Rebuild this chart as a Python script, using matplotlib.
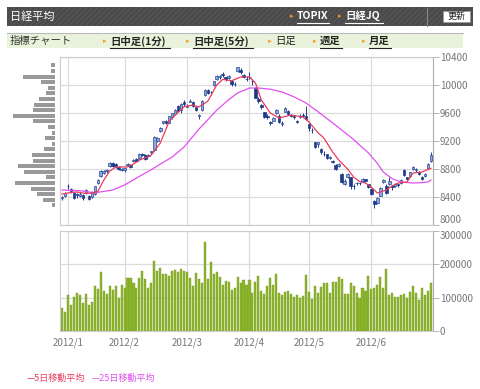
import numpy as np
import matplotlib
matplotlib.use("Agg")
import matplotlib.pyplot as plt
from matplotlib.patches import Rectangle
from matplotlib.lines import Line2D

plt.rcParams['font.family'] = ['Noto Sans CJK JP', 'DejaVu Sans']

# daily candles, 2011/12/29 - 2012/6/29
opens = [8380, 8420, 8550, 8515, 8460, 8440, 8410, 8430, 8460, 8420,
         8400, 8440, 8600, 8700, 8740, 8770, 8840, 8880, 8870, 8830,
         8790, 8780, 8850, 8860, 8910, 8940, 8950, 9020, 9000, 8980,
         9040, 9070, 9200, 9340, 9450, 9480, 9460, 9540, 9590, 9700,
         9640, 9760, 9690, 9760, 9760, 9680, 9560, 9640, 9850, 9930,
         9900, 10000, 10080, 10110, 10150, 10110, 10100, 10060, 10010, 10200,
         10220, 10140, 10090, 10110, 10060, 9960, 9800, 9720, 9610, 9560,
         9470, 9490, 9600, 9560, 9440, 9620, 9630, 9570, 9560, 9490,
         9540, 9570, 9560, 9440, 9350, 9180, 9150, 9090, 9020, 9010,
         8960, 8920, 8860, 8840, 8730, 8580, 8680, 8680, 8550, 8600,
         8600, 8630, 8650, 8580, 8520, 8340, 8320, 8420, 8620, 8560,
         8590, 8560, 8560, 8580, 8600, 8780, 8680, 8700, 8800, 8780,
         8760, 8680, 8700, 8810, 8910]
highs = [8420, 8470, 8580, 8535, 8470, 8460, 8470, 8440, 8520, 8430,
         8480, 8560, 8650, 8780, 8790, 8800, 8900, 8900, 8880, 8840,
         8820, 8820, 8890, 8870, 8940, 8950, 9030, 9030, 9010, 9010,
         9060, 9270, 9250, 9400, 9490, 9500, 9560, 9600, 9660, 9720,
         9740, 9790, 9730, 9800, 9770, 9690, 9590, 9780, 9940, 9940,
         9920, 10060, 10140, 10140, 10190, 10120, 10140, 10070, 10040, 10260,
         10240, 10160, 10130, 10190, 10080, 9970, 9830, 9730, 9620, 9580,
         9490, 9540, 9650, 9580, 9480, 9680, 9640, 9590, 9570, 9500,
         9580, 9600, 9700, 9450, 9380, 9190, 9190, 9100, 9050, 9020,
         8990, 8930, 8870, 8890, 8740, 8650, 8740, 8690, 8590, 8620,
         8610, 8670, 8660, 8590, 8530, 8350, 8400, 8540, 8660, 8580,
         8680, 8570, 8600, 8590, 8660, 8800, 8690, 8760, 8840, 8810,
         8770, 8700, 8740, 8880, 9040]
lows = [8350, 8400, 8520, 8460, 8370, 8390, 8400, 8360, 8440, 8360,
        8390, 8430, 8590, 8690, 8730, 8740, 8830, 8830, 8820, 8780,
        8770, 8760, 8840, 8820, 8900, 8900, 8940, 8980, 8930, 8970,
        9010, 9060, 9180, 9330, 9440, 9440, 9450, 9520, 9580, 9620,
        9600, 9700, 9680, 9750, 9690, 9630, 9520, 9630, 9840, 9870,
        9860, 9990, 10070, 10090, 10120, 10060, 10080, 9990, 9980, 10180,
        10160, 10100, 10060, 10080, 10000, 9810, 9740, 9660, 9530, 9520,
        9430, 9480, 9590, 9460, 9420, 9610, 9570, 9540, 9520, 9450,
        9530, 9540, 9500, 9340, 9320, 9100, 9120, 9020, 8990, 8940,
        8940, 8880, 8790, 8830, 8600, 8570, 8670, 8520, 8520, 8570,
        8570, 8620, 8620, 8530, 8430, 8240, 8300, 8410, 8600, 8440,
        8570, 8500, 8540, 8540, 8590, 8700, 8640, 8690, 8790, 8760,
        8720, 8640, 8690, 8800, 8900]
closes = [8399, 8455, 8560, 8488, 8390, 8422, 8448, 8385, 8500, 8378,
          8466, 8550, 8639, 8766, 8765, 8785, 8883, 8849, 8841, 8793,
          8802, 8809, 8876, 8831, 8929, 8917, 9015, 9002, 8947, 8999,
          9052, 9260, 9238, 9384, 9485, 9463, 9554, 9595, 9647, 9633,
          9722, 9723, 9707, 9777, 9698, 9637, 9576, 9768, 9929, 9889,
          9899, 10050, 10123, 10129, 10141, 10086, 10127, 10011, 10018, 10255,
          10182, 10114, 10083, 10109, 10050, 9819, 9767, 9688, 9546, 9538,
          9458, 9524, 9638, 9470, 9464, 9667, 9588, 9561, 9542, 9467,
          9561, 9561, 9520, 9380, 9350, 9119, 9181, 9045, 9009, 8953,
          8973, 8900, 8801, 8876, 8611, 8633, 8729, 8556, 8563, 8593,
          8593, 8657, 8633, 8542, 8440, 8295, 8383, 8533, 8639, 8459,
          8624, 8536, 8587, 8568, 8647, 8721, 8655, 8752, 8824, 8798,
          8734, 8663, 8730, 8874, 9006]
volumes = [68000, 57000, 107000, 78000, 101000, 113000, 107000, 84000, 111000, 77000,
           86000, 136000, 126000, 178000, 120000, 111000, 134000, 124000, 134000, 100000,
           138000, 128000, 159000, 159000, 145000, 130000, 159000, 180000, 156000, 128000,
           143000, 210000, 180000, 190000, 170000, 171000, 166000, 180000, 182000, 178000,
           186000, 180000, 176000, 159000, 134000, 174000, 157000, 145000, 268000, 155000,
           207000, 170000, 178000, 163000, 137000, 151000, 148000, 122000, 128000, 161000,
           143000, 152000, 138000, 153000, 113000, 148000, 166000, 120000, 111000, 136000,
           158000, 137000, 172000, 113000, 109000, 118000, 120000, 111000, 103000, 107000,
           100000, 104000, 168000, 118000, 96000, 134000, 113000, 132000, 143000, 145000,
           113000, 147000, 147000, 161000, 156000, 111000, 111000, 143000, 134000, 113000,
           98000, 130000, 120000, 164000, 127000, 130000, 138000, 161000, 128000, 185000,
           109000, 113000, 103000, 103000, 107000, 111000, 100000, 116000, 134000, 113000,
           93000, 128000, 107000, 120000, 145000]

# moving averages (bar index, value)
ma5_idx = [0, 3, 5, 8, 10, 12, 14, 16, 18, 20, 22, 24, 26, 28, 30, 33, 36, 39, 41, 44, 46,
           49, 52, 54, 57, 60, 63, 65, 67, 70, 73, 77, 81, 83, 86, 88, 91, 93, 96, 98, 100,
           102, 104, 106, 109, 111, 113, 116, 118, 121, 124]
ma5_val = [8443, 8465, 8471, 8450, 8457, 8480, 8640, 8770, 8825, 8830, 8829, 8870, 8929,
           8960, 9000, 9170, 9480, 9610, 9690, 9714, 9686, 9770, 10000, 10080, 10060, 10114,
           10114, 10029, 9786, 9600, 9529, 9571, 9543, 9471, 9320, 9243, 9040, 8929, 8800,
           8686, 8620, 8600, 8540, 8457, 8500, 8560, 8600, 8614, 8743, 8757, 8810]
ma25_idx = [0, 6, 11, 17, 21, 25, 30, 33, 37, 41, 46, 52, 56, 59, 63, 66, 70, 74, 78, 82,
            86, 91, 97, 103, 106, 108, 111, 114, 118, 121, 123, 124]
ma25_val = [8500, 8490, 8460, 8500, 8571, 8670, 8790, 8870, 8971, 9114, 9370, 9640, 9790,
            9886, 9957, 9957, 9940, 9900, 9830, 9743, 9620, 9457, 9257, 9029, 8880, 8757,
            8660, 8614, 8600, 8605, 8614, 8643]

# price-by-volume profile on the left
profile_price = [10280, 10200, 10120, 10040, 9960, 9880, 9800, 9720, 9640, 9560, 9480, 9400, 9320,
                 9240, 9160, 9080, 9000, 8920, 8840, 8760, 8680, 8600, 8520, 8440, 8360, 8280]
profile_size = [4.3, 3.7, 32, 14, 7, 9, 16, 21, 22, 42, 22, 7, 3, 10, 3, 11, 23, 22, 37, 31,
                9, 40, 24, 18, 12, 3]

month_pos = [2, 21, 42, 63, 83, 104]
month_labels = ['2012/1', '2012/2', '2012/3', '2012/4', '2012/5', '2012/6']

W, H = 480, 389
fig = plt.figure(figsize=(W / 100, H / 100), dpi=100)


def fx(x):
    return x / W


def fy(y):
    return 1 - y / H


grid_c = '#dcdcdc'
tick_c = '#777777'

# ---- header bars
fig.patches.append(Rectangle((fx(7), fy(26)), fx(466), 19 / H, transform=fig.transFigure,
                             facecolor='#4a4a4a', edgecolor='#555555', hatch='//////', lw=0))
fig.lines.append(Line2D([fx(427), fx(427)], [fy(8), fy(26)], transform=fig.transFigure,
                        color='#888888', lw=0.8))
fig.patches.append(Rectangle((fx(443), fy(22)), 27 / W, 11 / H, transform=fig.transFigure,
                             facecolor='white', edgecolor='#999999', lw=0.6))
fig.text(fx(456.5), fy(16.5), '更新', fontsize=6.5, color='#222222', ha='center', va='center')
fig.text(fx(10), fy(16.5), '日経平均', fontsize=8, color='white', va='center')


def link(x, y, label, width, color, bold=True, underline=True):
    fig.text(fx(x - 7), fy(y), '▸', fontsize=5, color='#f0a020', va='center',
             family=['DejaVu Sans'])
    fig.text(fx(x), fy(y), label, fontsize=7.5, color=color, va='center',
             fontweight='bold' if bold else 'normal')
    if underline:
        fig.lines.append(Line2D([fx(x), fx(x + width)], [fy(y + 6.5), fy(y + 6.5)],
                                transform=fig.transFigure, color=color, lw=0.8))


link(297, 16, 'TOPIX', 32, 'white')
link(345, 16, '日経JQ', 38, 'white')

fig.patches.append(Rectangle((fx(7), fy(48)), 456 / W, 15 / H, transform=fig.transFigure,
                             facecolor='#e9f2da', edgecolor='none'))
fig.lines.append(Line2D([fx(7), fx(463)], [fy(33), fy(33)], transform=fig.transFigure,
                        color='#bbbbbb', lw=0.8))
fig.text(fx(10), fy(41), '指標チャート', fontsize=7.5, color='#333333', va='center')
link(110, 41, '日中足(1分)', 60, '#222222')
link(193, 41, '日中足(5分)', 60, '#222222')
link(275, 41, '日足', 22, '#222222', bold=False, underline=False)
link(320, 41, '週足', 22, '#222222')
link(369, 41, '月足', 22, '#222222')

# ---- price panel
ax = fig.add_axes([fx(60), fy(225), 373 / W, 168 / H])
idx = np.arange(len(closes))
o = np.array(opens)
c = np.array(closes)
up = c >= o
ax.vlines(idx, lows, highs, color='#1f3d8c', lw=0.7, zorder=3)
ax.bar(idx[up], (c - o)[up], bottom=o[up], width=0.85, color='#8ea6d8',
       edgecolor='#2a4a9a', lw=0.5, zorder=4)
ax.bar(idx[~up], (o - c)[~up], bottom=c[~up], width=0.85, color='#1c3a8a',
       edgecolor='#1c3a8a', lw=0.5, zorder=4)
ax.plot(ma25_idx, ma25_val, color='#e050f0', lw=0.9, zorder=5)
ax.plot(ma5_idx, ma5_val, color='#e83c5c', lw=0.9, zorder=5)
ax.set_xlim(-0.7, 124.7)
ax.set_ylim(8000, 10400)
ax.set_yticks(range(8000, 10401, 400))
ax.yaxis.tick_right()
ax.set_xticks(month_pos)
ax.set_xticklabels([])
ax.tick_params(axis='x', length=0)
ax.tick_params(axis='y', length=4, width=0.6, color='#aaaaaa', labelsize=7,
               labelcolor=tick_c, pad=1)
ax.grid(True, color=grid_c, lw=0.9)
ax.set_axisbelow(True)
for s in ax.spines.values():
    s.set_color('#cccccc')
    s.set_linewidth(0.8)
ax.spines['right'].set_color('#aaaaaa')
fig.canvas.draw()
ax.get_yticklabels()[0].set_verticalalignment('bottom')

# ---- volume-at-price profile
ap = fig.add_axes([fx(10), fy(225), 45 / W, 168 / H])
ap.barh(profile_price, profile_size, height=56, color='#999999')
ap.set_xlim(45, 0)
ap.set_ylim(8000, 10400)
ap.axis('off')

# ---- volume panel
av = fig.add_axes([fx(60), fy(331), 373 / W, 100 / H])
av.bar(idx, volumes, width=0.7, color='#8db52e', edgecolor='#7a9e22', lw=0.3)
av.set_xlim(-0.7, 124.7)
av.set_ylim(0, 300000)
av.set_yticks([0, 100000, 200000, 300000])
av.yaxis.tick_right()
av.set_xticks(month_pos)
av.set_xticklabels(month_labels)
av.tick_params(axis='x', length=0, labelsize=7, labelcolor=tick_c, pad=5)
av.tick_params(axis='y', length=4, width=0.6, color='#aaaaaa', labelsize=7,
               labelcolor=tick_c, pad=1)
av.grid(True, color=grid_c, lw=0.9)
av.set_axisbelow(True)
for s in av.spines.values():
    s.set_color('#cccccc')
    s.set_linewidth(0.8)
av.spines['right'].set_color('#aaaaaa')
fig.canvas.draw()
av.get_yticklabels()[-1].set_verticalalignment('top')

# ---- legend
fig.text(fx(27), fy(378), '—5日移動平均', fontsize=6.5, color='#e83c5c', va='center')
fig.text(fx(92), fy(378), '—25日移動平均', fontsize=6.5, color='#e050f0', va='center')

fig.savefig('out.png', dpi=100)
